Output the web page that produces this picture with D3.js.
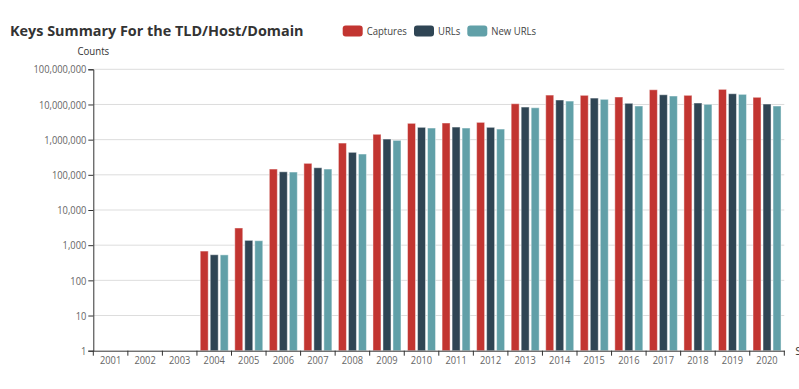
<!DOCTYPE html>
<html>
<head>
<meta charset="utf-8">
<script src="https://cdn.jsdelivr.net/npm/d3@7/dist/d3.min.js"></script>
<style>
  body { margin: 0; background: #fff; }
  svg { display: block; font-family: "Open Sans", sans-serif; }
</style>
</head>
<body>
<svg id="chart" width="799" height="389"></svg>
<script>
const years = ['2001', '2002', '2003', '2004', '2005', '2006', '2007', '2008', '2009', '2010',
  '2011', '2012', '2013', '2014', '2015', '2016', '2017', '2018', '2019', '2020'];
const seriesNames = ['Captures', 'URLs', 'New URLs'];
const captures = [null, null, null, 680, 3080, 146000, 212000, 800000, 1420000, 2910000,
  2970000, 3100000, 10500000, 18500000, 18200000, 16300000, 26200000, 18200000, 26900000, 16000000];
const urls = [null, null, null, 535, 1370, 122000, 159000, 436000, 1040000, 2240000,
  2280000, 2240000, 8450000, 13400000, 15200000, 10800000, 18900000, 11000000, 20200000, 10300000];
const newUrls = [null, null, null, 530, 1340, 120000, 146000, 390000, 955000, 2140000,
  2140000, 2000000, 8070000, 12500000, 14000000, 9040000, 17400000, 10100000, 19400000, 9040000];
const yTicks = [1, 10, 100, 1000, 10000, 100000, 1000000, 10000000, 100000000];
const colors = ['#c23531', '#2f4554', '#61a0a8'];

const seriesValues = [captures, urls, newUrls];
const rows = years.map((year, i) => ({ year, values: seriesNames.map((name, s) => ({ name, value: seriesValues[s][i] })) }));

const margin = { top: 69.3, right: 14.7, bottom: 38.3, left: 93.3 };
const width = 799;
const height = 389;

// the original labels use a narrow face; squeeze Open Sans to the same width
const squeeze = (selection, k) => selection.each(function () {
  const len = this.getComputedTextLength();
  d3.select(this)
    .attr('textLength', len * k)
    .attr('lengthAdjust', 'spacingAndGlyphs');
});

const svg = d3.select('#chart');

const xScale = d3.scaleBand()
  .domain(years)
  .range([margin.left, width - margin.right]);

const innerScale = d3.scaleBand()
  .domain(seriesNames)
  .range([0, 28])
  .paddingInner(0.2);

const yScale = d3.scaleLog()
  .domain([1, 1e8])
  .range([height - margin.bottom, margin.top]);

const colorScale = d3.scaleOrdinal().domain(seriesNames).range(colors);

// grid lines
svg.append('g')
  .selectAll('line')
  .data(yTicks.slice(1))
  .enter()
  .append('line')
  .attr('x1', margin.left)
  .attr('x2', width - margin.right)
  .attr('y1', (d) => yScale(d))
  .attr('y2', (d) => yScale(d))
  .attr('stroke', '#ddd')
  .attr('stroke-width', 1);

// bars
const offset = (xScale.bandwidth() - 28) / 2;
svg.append('g')
  .selectAll('g')
  .data(rows)
  .enter()
  .append('g')
  .attr('transform', (d) => `translate(${xScale(d.year) + offset},0)`)
  .selectAll('rect')
  .data((d) => d.values.filter((v) => v.value))
  .enter()
  .append('rect')
  .attr('x', (d) => innerScale(d.name))
  .attr('y', (d) => yScale(d.value))
  .attr('width', innerScale.bandwidth())
  .attr('height', (d) => yScale(1) - yScale(d.value))
  .attr('fill', (d) => colorScale(d.name))
  .attr('stroke', 'rgba(255,255,255,0.45)')
  .attr('stroke-width', 1);

// y axis
const yAxis = d3.axisLeft(yScale)
  .tickValues(yTicks)
  .tickFormat(d3.format(','))
  .tickSize(5)
  .tickPadding(2);

const gy = svg.append('g')
  .attr('transform', `translate(${margin.left},0)`)
  .call(yAxis);
gy.select('.domain').attr('stroke', '#333');
gy.selectAll('.tick line').attr('stroke', '#333');
gy.selectAll('.tick text')
  .attr('fill', '#666')
  .style('font-size', '11.5px')
  .style('font-family', '"Open Sans", sans-serif')
  .call(squeeze, 0.81);

// x axis, ticks on band boundaries
const xAxis = d3.axisBottom(xScale).tickSize(0).tickPadding(5.5);
const gx = svg.append('g')
  .attr('transform', `translate(0,${yScale(1)})`)
  .call(xAxis);
gx.select('.domain').attr('stroke', '#333');
gx.selectAll('.tick text')
  .attr('fill', '#666')
  .style('font-size', '11.5px')
  .style('font-family', '"Open Sans", sans-serif')
  .call(squeeze, 0.81);
gx.append('g')
  .selectAll('line')
  .data(years.concat(['end']))
  .enter()
  .append('line')
  .attr('x1', (d, i) => margin.left + i * xScale.step())
  .attr('x2', (d, i) => margin.left + i * xScale.step())
  .attr('y1', 0)
  .attr('y2', 5)
  .attr('stroke', '#333');

// x axis name, runs off the right edge like the original
svg.append('text')
  .attr('x', width - margin.right + 11)
  .attr('y', yScale(1) + 4)
  .attr('fill', '#333')
  .style('font-size', '11.5px')
  .text('Snapshots');

// y axis name
svg.append('text')
  .attr('x', margin.left)
  .attr('y', 55)
  .attr('text-anchor', 'middle')
  .attr('fill', '#333')
  .style('font-size', '11.5px')
  .text('Counts')
  .call(squeeze, 0.84);

// title
svg.append('text')
  .attr('x', 10)
  .attr('y', 36)
  .attr('fill', '#333')
  .style('font-size', '14.4px')
  .style('font-weight', 'bold')
  .text('Keys Summary For the TLD/Host/Domain');

// legend
const legendX = [342.7, 414, 467.3];
const legend = svg.append('g')
  .selectAll('g')
  .data(seriesNames)
  .enter()
  .append('g')
  .attr('transform', (d, i) => `translate(${legendX[i]},25.5)`);
legend.append('rect')
  .attr('width', 20)
  .attr('height', 11)
  .attr('rx', 3)
  .attr('fill', (d) => colorScale(d));
legend.append('text')
  .attr('x', 24)
  .attr('y', 9)
  .attr('fill', '#444')
  .style('font-size', '11.5px')
  .text((d) => d)
  .call(squeeze, 0.83);
</script>
</body>
</html>
